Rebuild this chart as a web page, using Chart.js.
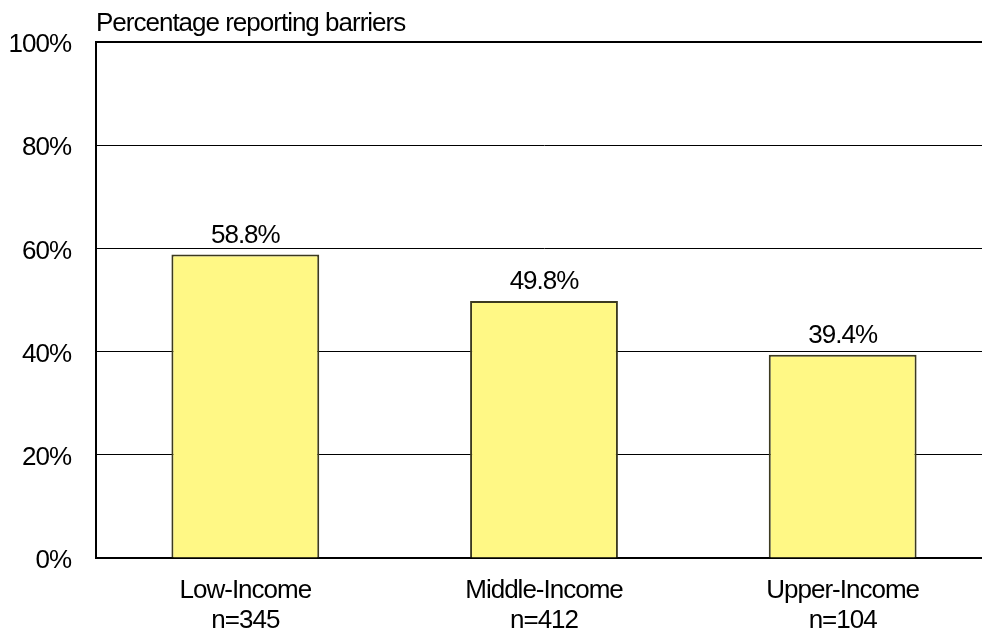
<!DOCTYPE html>
<html>
<head>
<meta charset="utf-8">
<script src="https://cdn.jsdelivr.net/npm/chart.js@4"></script>
<style>
  html, body { margin: 0; padding: 0; background: #fff; overflow: hidden; }
  #wrap { width: 982px; height: 632px; overflow: hidden; }
</style>
</head>
<body>
<div id="wrap">
  <canvas id="barriers-chart" width="1000" height="632"></canvas>
</div>
<script>
const groups = [['Low-Income', 'n=345'], ['Middle-Income', 'n=412'], ['Upper-Income', 'n=104']];
const barrierPct = [58.8, 49.8, 39.4];
const yTicks = [0, 20, 40, 60, 80, 100];
const chartTitle = 'Percentage reporting barriers';

const FONT = '"Liberation Sans", Arial, sans-serif';
const FONT_SIZE = 26;

// slightly tighter text everywhere, like the old office chart style
const tightText = {
  id: 'tightText',
  beforeDraw(chart) {
    chart.ctx.letterSpacing = '-1px';
  }
};

// title above the plot, left aligned with the y axis line
const titlePlugin = {
  id: 'leftTitle',
  afterDraw(chart) {
    const ctx = chart.ctx;
    ctx.save();
    ctx.font = FONT_SIZE + 'px ' + FONT;
    ctx.fillStyle = '#000';
    ctx.textAlign = 'left';
    ctx.textBaseline = 'alphabetic';
    ctx.fillText(chartTitle, chart.chartArea.left, 31);
    ctx.restore();
  }
};

// percentage written above each bar
const valueLabels = {
  id: 'valueLabels',
  afterDatasetsDraw(chart) {
    const ctx = chart.ctx;
    const meta = chart.getDatasetMeta(0);
    ctx.save();
    ctx.font = FONT_SIZE + 'px ' + FONT;
    ctx.fillStyle = '#000';
    ctx.textAlign = 'center';
    ctx.textBaseline = 'alphabetic';
    meta.data.forEach((bar, i) => {
      ctx.fillText(barrierPct[i].toFixed(1) + '%', bar.x, bar.y - 12);
    });
    ctx.restore();
  }
};

const ctx = document.getElementById('barriers-chart').getContext('2d');
const chart = new Chart(ctx, {
  type: 'bar',
  data: {
    labels: groups,
    datasets: [{
      data: barrierPct,
      backgroundColor: '#fff885',
      borderColor: '#3c3a20',
      borderWidth: 2,
      barPercentage: 0.495,
      categoryPercentage: 1
    }]
  },
  options: {
    responsive: false,
    animation: false,
    devicePixelRatio: 1,
    layout: { padding: { top: 42, right: 8, bottom: 0, left: 0 } },
    plugins: {
      legend: { display: false },
      tooltip: { enabled: false }
    },
    scales: {
      x: {
        grid: { display: false, drawTicks: false },
        border: { display: true, color: '#000', width: 2 },
        ticks: {
          color: '#000',
          font: { family: FONT, size: FONT_SIZE, lineHeight: '30px' },
          padding: 18,
          maxRotation: 0
        },
        afterFit(scale) { scale.height = 74; }
      },
      y: {
        min: 0,
        max: 100,
        afterBuildTicks(scale) {
          scale.ticks = yTicks.map(v => ({ value: v }));
        },
        grid: {
          color: '#000',
          lineWidth: c => (c.tick && c.tick.value === 100 ? 2 : 1),
          drawTicks: false
        },
        border: { display: true, color: '#000', width: 2 },
        ticks: {
          color: '#000',
          font: { family: FONT, size: FONT_SIZE },
          padding: 25,
          labelOffset: 3,
          callback: v => v + '%'
        },
        afterFit(scale) { scale.width = 96; }
      }
    }
  },
  plugins: [tightText, titlePlugin, valueLabels]
});
</script>
</body>
</html>
